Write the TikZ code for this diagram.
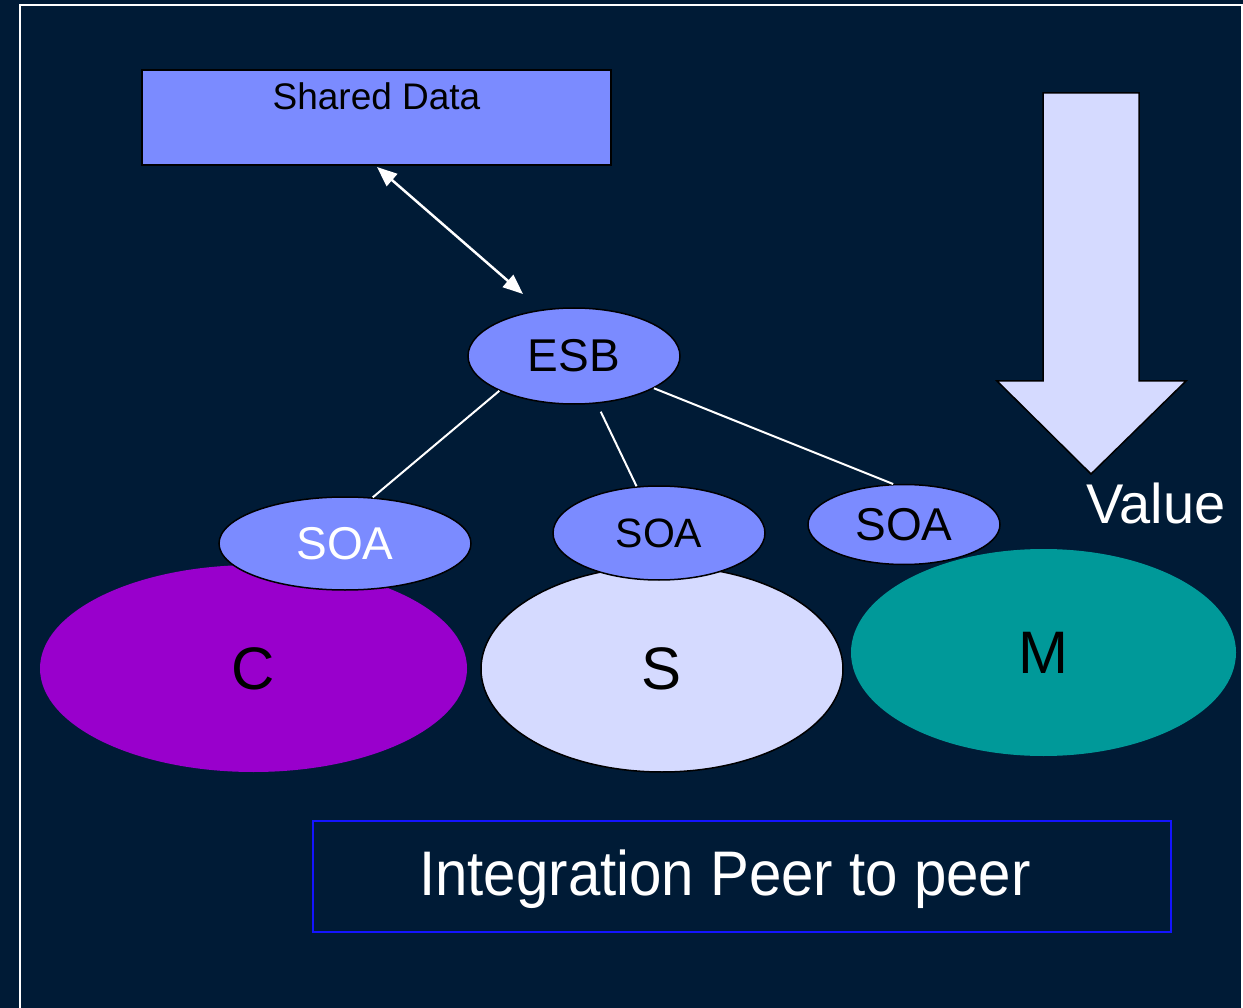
\documentclass[tikz,border=0pt]{standalone}
\usepackage{fontspec}
\setmainfont{Liberation Sans}
\usetikzlibrary{shapes.geometric,arrows.meta}
\definecolor{bgnavy}{RGB}{0,27,54}
\definecolor{periw}{RGB}{123,139,255}
\definecolor{lav}{RGB}{213,218,255}
\definecolor{purp}{RGB}{153,0,204}
\definecolor{teal2}{RGB}{0,153,153}
\definecolor{boxblue}{RGB}{20,20,255}
\newcommand{\fsz}[1]{\fontsize{#1}{#1}\selectfont}
\tikzset{
  ov/.style={ellipse, draw=black, line width=1.5pt, inner sep=0pt},
  soa/.style={ov, fill=periw},
  conn/.style={draw=white, line width=2pt},
}
\begin{document}
\begin{tikzpicture}[x=1pt,y=-1pt]
\useasboundingbox (0,0) rectangle (1243,1008);
\fill[bgnavy] (0,0) rectangle (1243,1008);
\draw[white, line width=2pt] (19.5,1010) -- (19.5,5.5) -- (1241.5,5.5) -- (1241.5,1010);

% shared data
\node[rectangle, draw=black, line width=2pt, fill=periw, inner sep=0pt,
      minimum width=469pt, text height=40pt, text depth=55pt, anchor=north,
      font=\fsz{37}] (shared) at (376.5,69) {Shared Data};

% big ellipses
\node[ov, fill=purp, draw=none, minimum width=427pt, minimum height=207pt, font=\fsz{60}] (C) at (253.5,668.5) {C};
\node[ov, fill=lav, minimum width=362pt, minimum height=206pt, font=\fsz{60}] (S) at (662,669) {S};
\node[ov, fill=teal2, draw=none, minimum width=385pt, minimum height=207pt, font=\fsz{60}] (M) at (1043.5,652.5) {M};

% ESB and SOA
\node[soa, minimum width=212pt, minimum height=96pt, font=\fsz{46}] (esb) at (574,356) {ESB};
\node[soa, minimum width=252pt, minimum height=93pt, font=\fsz{46}, text=white] (soa1) at (345,543.5) {SOA};
\node[soa, minimum width=212pt, minimum height=94pt, font=\fsz{41}] (soa2) at (659,533) {SOA};
\node[soa, minimum width=192pt, minimum height=80pt, font=\fsz{46}] (soa3) at (904,524.5) {SOA};

% connectors
\draw[conn] (esb.205) -- (soa1.59);
\draw[conn, shorten <=9pt] (esb) -- (soa2);
\draw[conn] (esb.-22) -- (soa3.105);

\coordinate (sdA) at (377,167);
\coordinate (sdB) at (523,294);
\draw[draw=white, line width=2.5pt, {Triangle[length=20pt,width=16pt]}-{Triangle[length=20pt,width=16pt]}] (sdA) -- (sdB);

% value arrow
\draw[fill=lav, draw=black, line width=1.5pt, line join=miter]
  (1043,93) -- (1139,93) -- (1139,381) -- (1186,381) -- (1091,474) -- (997,381) -- (1043,381) -- cycle;
\node[text=white, font=\fsz{56}, inner sep=0pt] (value) at (1156,503) {Value};

% bottom box
\node[rectangle, draw=boxblue, line width=2pt, minimum width=858pt, minimum height=111pt,
      inner sep=0pt] (integ) at (742,876.5) {};
\node[text=white, font=\fsz{60}, inner sep=0pt] (integtext) at (725,879) {\scalebox{0.97}[1.05]{Integration Peer to peer}};
\end{tikzpicture}
\end{document}
